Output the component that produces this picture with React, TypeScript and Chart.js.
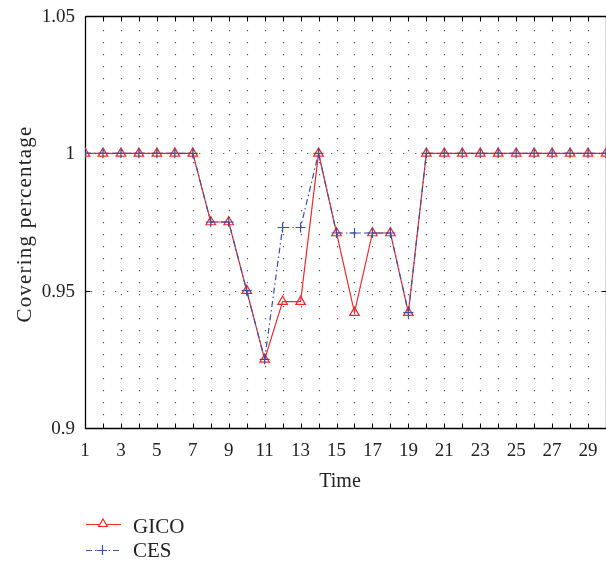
import React, { useEffect, useRef } from "react";
import { Chart, registerables } from "chart.js";

Chart.register(...registerables);

const timeSteps = [1, 2, 3, 4, 5, 6, 7, 8, 9, 10, 11, 12, 13, 14, 15, 16, 17, 18, 19, 20, 21, 22, 23, 24, 25, 26, 27, 28, 29, 30];
const gicoValues = [1, 1, 1, 1, 1, 1, 1, 0.975, 0.975, 0.95, 0.925, 0.946, 0.946, 1, 0.971, 0.942, 0.971, 0.971, 0.942, 1, 1, 1, 1, 1, 1, 1, 1, 1, 1, 1];
const cesValues = [1, 1, 1, 1, 1, 1, 1, 0.975, 0.975, 0.95, 0.925, 0.973, 0.973, 1, 0.971, 0.971, 0.971, 0.971, 0.942, 1, 1, 1, 1, 1, 1, 1, 1, 1, 1, 1];
const xTickLabels = [1, 3, 5, 7, 9, 11, 13, 15, 17, 19, 21, 23, 25, 27, 29];
const yTickValues = [0.9, 0.95, 1, 1.05];
const yTickLabels = ["0.9", "0.95", "1", "1.05"];
const yGridValues = [0.95, 1];
const seriesNames = ["GICO", "CES"];
const xTitle = "Time";
const yTitle = "Covering percentage";

const RED = "#ee2a2e";
const BLUE = "#3b4fa2";
const TEXT = "#222";
const FONT = "'Liberation Serif', 'DejaVu Serif', serif";
const CES_DASH = [6, 3, 1.5, 3];

const decor = {
  id: "decor",
  beforeDatasetsDraw(chart: any) {
    const { ctx, chartArea, scales } = chart;
    const { left, right, top, bottom } = chartArea;
    const x = scales.x;
    const y = scales.y;
    ctx.save();
    ctx.strokeStyle = "#555";
    ctx.lineWidth = 1.2;
    ctx.setLineDash([1.3, 10.7]);
    for (const v of timeSteps) {
      if (v === timeSteps[0]) continue;
      const px = Math.round(x.getPixelForValue(v)) + 0.5;
      ctx.beginPath();
      ctx.moveTo(px, top + 2);
      ctx.lineTo(px, bottom);
      ctx.stroke();
    }
    for (const v of yGridValues) {
      const py = Math.round(y.getPixelForValue(v)) + 0.5;
      ctx.beginPath();
      ctx.moveTo(left + 6, py);
      ctx.lineTo(right, py);
      ctx.stroke();
    }
    ctx.setLineDash([]);
    ctx.strokeStyle = "#000";
    ctx.lineWidth = 1.3;
    const L = Math.round(left) + 0.5;
    const B = Math.round(bottom) + 0.5;
    const T = Math.round(top) + 0.5;
    const R = Math.round(right) + 0.5;
    ctx.beginPath();
    ctx.moveTo(L, T);
    ctx.lineTo(L, B);
    ctx.lineTo(R, B);
    ctx.lineTo(R, T);
    ctx.lineTo(L, T);
    ctx.stroke();
    ctx.lineWidth = 1;
    for (const v of timeSteps) {
      const px = Math.round(x.getPixelForValue(v)) + 0.5;
      ctx.beginPath();
      ctx.moveTo(px, B);
      ctx.lineTo(px, B - 5);
      ctx.moveTo(px, T);
      ctx.lineTo(px, T + 5);
      ctx.stroke();
    }
    for (const v of yTickValues) {
      const py = Math.round(y.getPixelForValue(v)) + 0.5;
      ctx.beginPath();
      ctx.moveTo(L, py);
      ctx.lineTo(L + 5, py);
      ctx.moveTo(R, py);
      ctx.lineTo(R - 5, py);
      ctx.stroke();
    }
    ctx.restore();
  },
  afterDraw(chart: any) {
    const { ctx, chartArea, scales } = chart;
    const x = scales.x;
    const y = scales.y;
    ctx.save();
    ctx.fillStyle = TEXT;
    ctx.textBaseline = "alphabetic";

    // tick labels
    ctx.font = `19px ${FONT}`;
    ctx.textAlign = "center";
    for (const v of xTickLabels) {
      ctx.fillText(String(v), x.getPixelForValue(v), 456);
    }
    ctx.textAlign = "right";
    yTickValues.forEach((v, i) => {
      ctx.fillText(yTickLabels[i], 75, y.getPixelForValue(v) + 6);
    });

    // titles
    ctx.font = `20px ${FONT}`;
    ctx.textAlign = "center";
    ctx.fillText(xTitle, chartArea.left + 255, 487);
    ctx.save();
    ctx.translate(31, (chartArea.top + chartArea.bottom) / 2 + 2);
    ctx.rotate(-Math.PI / 2);
    ctx.font = `21px ${FONT}`;
    (ctx as any).letterSpacing = "1.2px";
    ctx.fillText(yTitle, 0, 0);
    (ctx as any).letterSpacing = "0px";
    ctx.restore();

    // legend
    ctx.font = `21px ${FONT}`;
    const rows = [
      { name: seriesNames[0], color: RED, dash: [] as number[], style: "triangle", y: 524, base: 533 },
      { name: seriesNames[1], color: BLUE, dash: CES_DASH, style: "cross", y: 550, base: 557 },
    ];
    for (const r of rows) {
      ctx.strokeStyle = r.color;
      ctx.lineWidth = 1.2;
      ctx.setLineDash(r.dash);
      ctx.beginPath();
      ctx.moveTo(86, r.y + 0.5);
      ctx.lineTo(121, r.y + 0.5);
      ctx.stroke();
      ctx.setLineDash([]);
      ctx.beginPath();
      if (r.style === "triangle") {
        const rad = 5;
        const cx = 103;
        const cy = r.y;
        ctx.moveTo(cx, cy - rad);
        ctx.lineTo(cx + rad * Math.sin((2 * Math.PI) / 3), cy - rad * Math.cos((2 * Math.PI) / 3));
        ctx.lineTo(cx + rad * Math.sin((4 * Math.PI) / 3), cy - rad * Math.cos((4 * Math.PI) / 3));
        ctx.closePath();
        ctx.fillStyle = "#fff";
        ctx.fill();
      } else {
        ctx.moveTo(97, r.y + 0.5);
        ctx.lineTo(107, r.y + 0.5);
        ctx.moveTo(102.5, r.y - 5);
        ctx.lineTo(102.5, r.y + 5);
      }
      ctx.stroke();
      ctx.fillStyle = TEXT;
      ctx.textAlign = "left";
      ctx.fillText(r.name, 133, r.base);
    }
    ctx.restore();
  },
};

export default function App() {
  const ref = useRef<HTMLCanvasElement | null>(null);
  useEffect(() => {
    if (!ref.current) return;
    const chart = new Chart(ref.current, {
      type: "line",
      data: {
        datasets: [
          {
            label: seriesNames[0],
            data: timeSteps.map((t, i) => ({ x: t, y: gicoValues[i] })),
            borderColor: RED,
            borderWidth: 1.2,
            pointStyle: "triangle",
            pointRadius: 5.5,
            pointBorderColor: RED,
            pointBackgroundColor: "rgba(255,255,255,0)",
            pointBorderWidth: 1.2,
            fill: false,
            tension: 0,
            order: 2,
          },
          {
            label: seriesNames[1],
            data: timeSteps.map((t, i) => ({ x: t, y: cesValues[i] })),
            borderColor: BLUE,
            borderWidth: 1.2,
            borderDash: CES_DASH,
            pointStyle: "cross",
            pointRadius: 5,
            pointBorderColor: BLUE,
            pointBorderWidth: 1.2,
            fill: false,
            tension: 0,
            order: 1,
          },
        ],
      },
      options: {
        animation: false,
        responsive: false,
        layout: { autoPadding: false, padding: { top: 16, right: 0, left: 0, bottom: 0 } },
        plugins: { legend: { display: false }, tooltip: { enabled: false } },
        scales: {
          x: {
            type: "linear",
            min: 1,
            max: 30,
            grid: { display: false, drawTicks: false },
            border: { display: false },
            ticks: { display: false },
            afterFit: (s: any) => {
              s.height = 135;
            },
          },
          y: {
            type: "linear",
            min: 0.9,
            max: 1.05,
            grid: { display: false, drawTicks: false },
            border: { display: false },
            ticks: { display: false },
            afterFit: (s: any) => {
              s.width = 85;
            },
          },
        },
      },
      plugins: [decor],
    });
    return () => chart.destroy();
  }, []);
  return (
    <div style={{ position: "fixed", left: 0, top: 0, width: 606, height: 563, background: "#fff" }}>
      <canvas ref={ref} width={606} height={563} style={{ display: "block" }} />
    </div>
  );
}
